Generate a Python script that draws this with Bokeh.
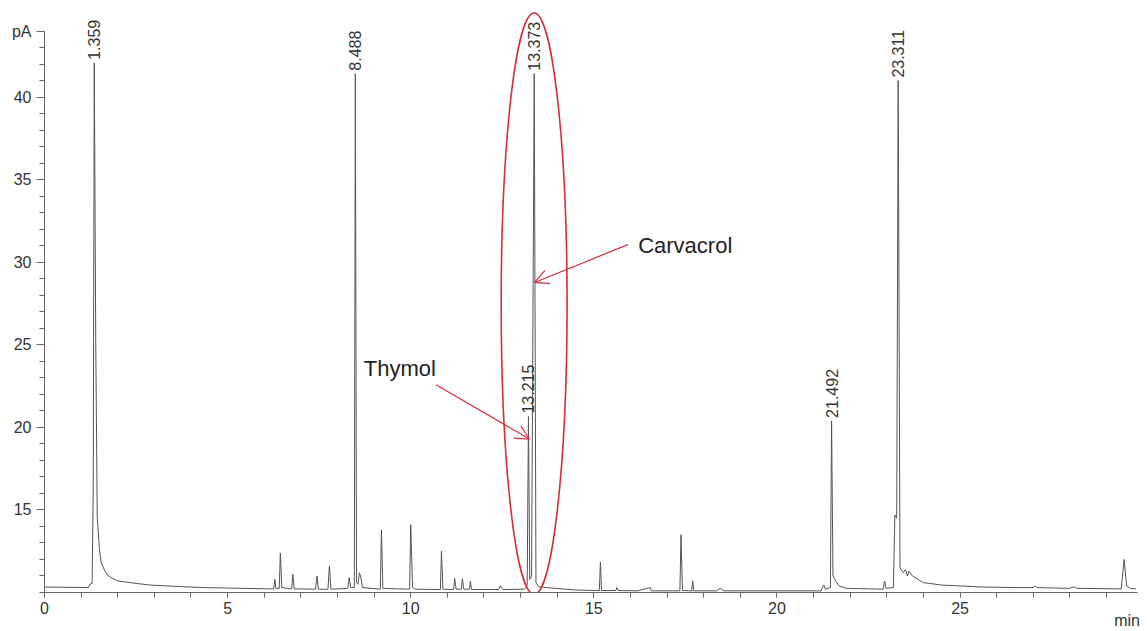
import math
from bokeh.plotting import figure
from bokeh.models import (Range1d, FixedTicker, Arrow, OpenHead, Label, ColumnDataSource, LinearAxis)
from bokeh.core.properties import value
from bokeh.embed import file_html
from bokeh.resources import INLINE

# ---- chromatogram trace (min, pA) ----
trace_t = [0.00, 1.20, 1.24, 1.30, 1.33, 1.359, 1.40, 1.44, 1.50, 1.55, 1.65, 1.74, 2.00, 2.50, 2.90,
           3.50, 4.30, 5.00, 6.10,
           6.26, 6.29, 6.32, 6.41, 6.44, 6.48, 6.75, 6.78, 6.82,
           7.40, 7.44, 7.48, 7.74, 7.78, 7.82, 8.28, 8.32, 8.36,
           8.46, 8.488, 8.52, 8.56, 8.60, 8.64, 8.68,
           9.17, 9.20, 9.24, 9.97, 10.00, 10.05, 10.12,
           10.81, 10.84, 10.88, 11.17, 11.20, 11.24, 11.38, 11.41, 11.45,
           11.60, 11.63, 11.66, 12.40, 12.45, 12.52,
           13.10, 13.18, 13.215, 13.25, 13.30, 13.373, 13.42, 13.50, 13.70,
           14.50, 15.15, 15.18, 15.21, 15.60, 15.63, 15.66, 16.20, 16.54, 16.57,
           17.35, 17.38, 17.42, 17.67, 17.70, 17.73, 18.35, 18.45, 18.55,
           21.20, 21.28, 21.32, 21.46, 21.492, 21.53, 21.60, 21.70, 21.90,
           22.90, 22.94, 22.98, 23.18, 23.22, 23.27, 23.311, 23.36, 23.45, 23.51, 23.56, 23.60,
           23.70, 24.00, 24.50, 25.00, 25.62, 26.50, 27.00, 27.05, 27.10, 28.00, 28.10, 28.20,
           29.40, 29.48, 29.55, 29.65, 29.80]
trace_v = [10.33, 10.30, 10.50, 10.55, 16.00, 42.10, 25.00, 14.60, 12.60, 11.80, 11.30, 11.00, 10.70, 10.55, 10.45,
           10.38, 10.30, 10.27, 10.22,
           10.22, 10.80, 10.25, 10.25, 12.40, 10.30, 10.22, 11.10, 10.22,
           10.20, 11.00, 10.20, 10.20, 11.60, 10.20, 10.25, 10.90, 10.30,
           10.30, 41.44, 10.60, 10.50, 11.20, 10.90, 10.30,
           10.20, 13.80, 10.25, 10.20, 14.10, 10.30, 10.20,
           10.18, 12.50, 10.20, 10.18, 10.85, 10.20, 10.20, 10.83, 10.20,
           10.20, 10.67, 10.18, 10.18, 10.40, 10.18,
           10.20, 10.40, 20.66, 10.80, 11.00, 41.44, 10.60, 10.35, 10.30,
           10.15, 10.12, 11.84, 10.12, 10.12, 10.30, 10.12, 10.10, 10.30, 10.10,
           10.10, 13.50, 10.12, 10.10, 10.70, 10.10, 10.10, 10.25, 10.10,
           10.10, 10.45, 10.20, 10.30, 20.40, 11.00, 10.70, 10.40, 10.25,
           10.20, 10.70, 10.25, 10.30, 14.70, 14.50, 41.02, 11.50, 11.20, 11.40, 11.00, 11.30,
           11.00, 10.60, 10.45, 10.40, 10.33, 10.30, 10.30, 10.40, 10.30, 10.25, 10.35, 10.25,
           10.22, 12.00, 10.40, 10.25, 10.22]

# ---- labelled peaks ----
peak_labels = ["1.359", "8.488", "13.215", "13.373", "21.492", "23.311"]
peak_t = [1.359, 8.488, 13.215, 13.373, 21.492, 23.311]
peak_v = [42.10, 41.44, 20.66, 41.44, 20.40, 41.02]

# ---- axis ticks ----
x_major = [0, 5, 10, 15, 20, 25]
x_minor = list(range(0, 30))
x_unit_pos = 29.56
y_major = [15, 20, 25, 30, 35, 40, 44]
y_minor = list(range(10, 45))
y_overrides = {44: "pA"}

# ---- annotations ----
ellipse_center = (13.37, 27.5)
ellipse_size = (1.80, 35.27)
carv_text = ("Carvacrol", 16.21, 31.02)
carv_arrow = (15.93, 31.08, 13.38, 28.79)
thym_text = ("Thymol", 8.72, 23.56)
thym_arrow = (10.69, 22.59, 13.24, 19.30)

RED = "#d3303d"
FONT = "Liberation Sans"

p = figure(width=1141, height=631, output_backend="svg", toolbar_location=None,
           x_range=Range1d(0, 29.9), y_range=Range1d(10, 45.33),
           min_border_left=44, min_border_right=2, min_border_top=9, min_border_bottom=39)
p.outline_line_color = None
p.xgrid.visible = False
p.ygrid.visible = False
p.background_fill_color = "white"

p.line(trace_t, trace_v, line_color="#555555", line_width=1)

src = ColumnDataSource(dict(x=peak_t, y=peak_v, text=peak_labels))
p.text(x="x", y="y", text="text", source=src, angle=math.pi / 2,
       text_align="left", text_baseline="middle", y_offset=-3,
       text_font=value(FONT), text_font_size="16px", text_color="#333333")

p.ellipse(x=ellipse_center[0], y=ellipse_center[1], width=ellipse_size[0], height=ellipse_size[1],
          fill_color=None, line_color=RED, line_width=1.6)

for (xs, ys, xe, ye) in (carv_arrow, thym_arrow):
    p.add_layout(Arrow(end=OpenHead(size=14, line_color=RED, line_width=1.2),
                       x_start=xs, y_start=ys, x_end=xe, y_end=ye,
                       line_color=RED, line_width=1.2))

for (txt, tx, ty) in (carv_text, thym_text):
    p.add_layout(Label(x=tx, y=ty, text=txt, text_align="left", text_baseline="middle",
                       text_font=FONT, text_font_size="22px", text_color="#222222"))

xa = p.xaxis[0]
xa.ticker = FixedTicker(ticks=x_major, minor_ticks=x_minor)
xa.bounds = (0, 29.85)
xa.axis_line_color = "#666666"
xa.major_tick_line_color = "#666666"
xa.minor_tick_line_color = "#666666"
xa.major_tick_out = 5
xa.major_tick_in = 0
xa.minor_tick_out = 5
xa.minor_tick_in = 0
xa.major_label_standoff = 4
xa.major_label_text_font = FONT
xa.major_label_text_font_size = "16px"
xa.major_label_text_color = "#333333"

# unit label "min" at the right end, a little below the tick labels
ua = LinearAxis(ticker=FixedTicker(ticks=[x_unit_pos], minor_ticks=[]),
                major_label_overrides={x_unit_pos: "min"})
ua.axis_line_color = None
ua.major_tick_line_color = None
ua.minor_tick_line_color = None
ua.major_tick_out = 0
ua.major_label_standoff = -5
ua.major_label_text_font = FONT
ua.major_label_text_font_size = "16px"
ua.major_label_text_color = "#333333"
p.add_layout(ua, "below")

ya = p.yaxis[0]
ya.ticker = FixedTicker(ticks=y_major, minor_ticks=y_minor)
ya.major_label_overrides = y_overrides
ya.bounds = (10, 44)
ya.axis_line_color = "#666666"
ya.major_tick_line_color = "#666666"
ya.minor_tick_line_color = "#666666"
ya.major_tick_out = 8
ya.major_tick_in = 0
ya.minor_tick_out = 5
ya.minor_tick_in = 0
ya.major_label_standoff = 5
ya.major_label_text_font = FONT
ya.major_label_text_font_size = "16px"
ya.major_label_text_color = "#333333"

open("out.html", "w").write(file_html(p, INLINE))
